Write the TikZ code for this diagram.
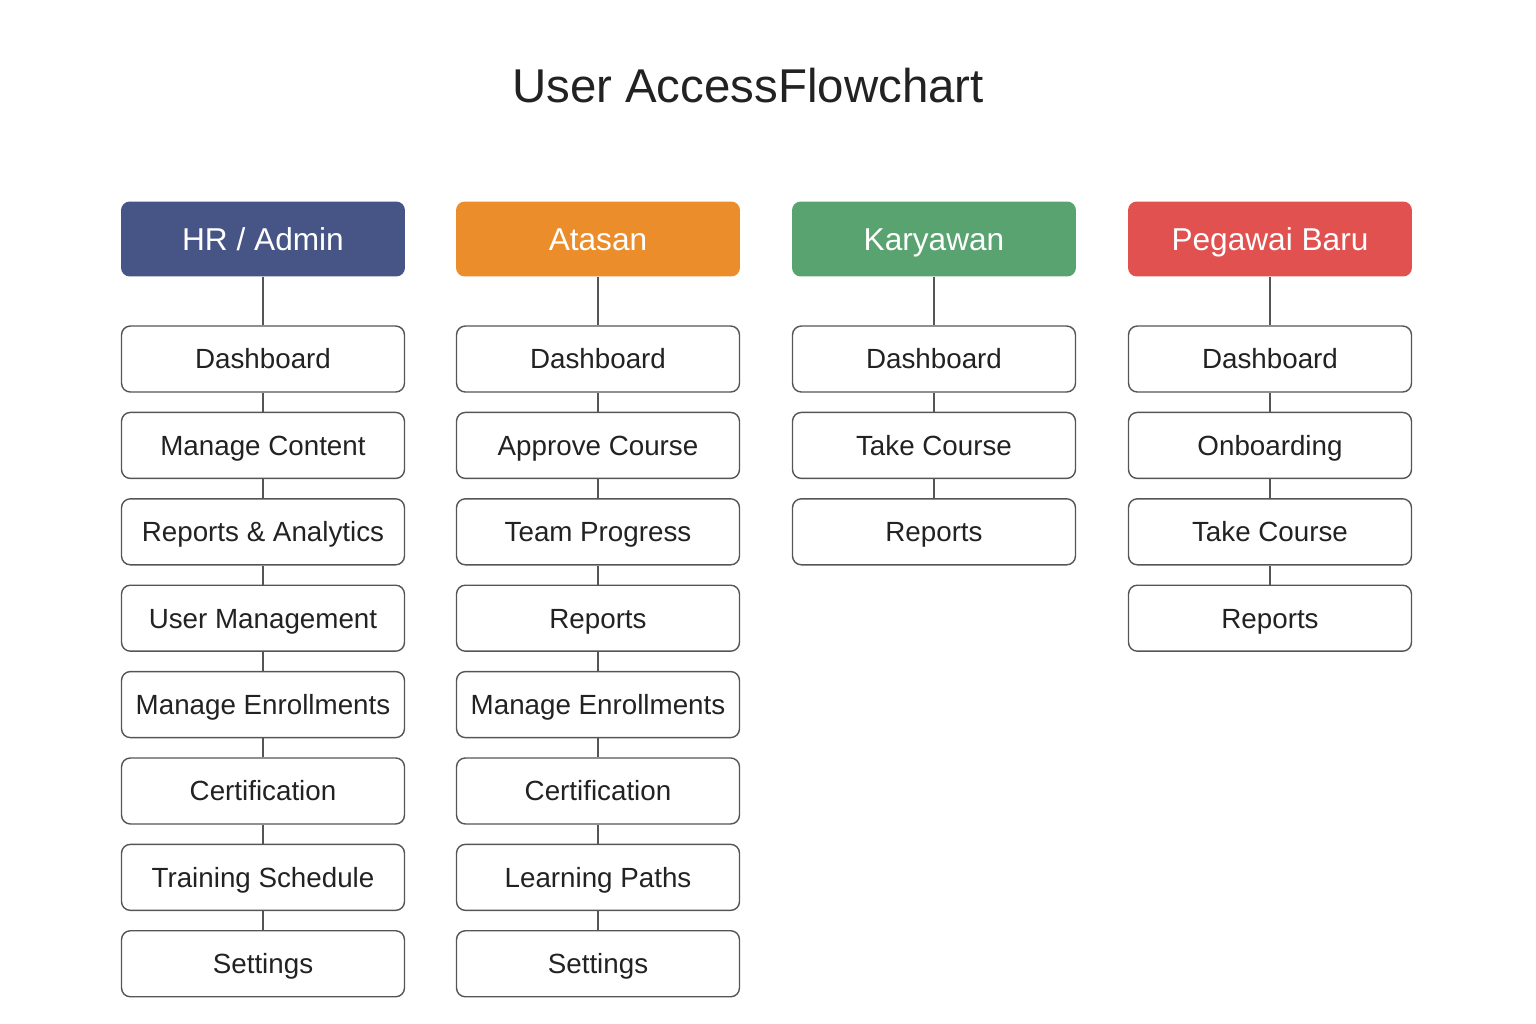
\documentclass[tikz,border=0pt]{standalone}
\usepackage{fontspec}
\setmainfont{Liberation Sans}
\usetikzlibrary{positioning}
\definecolor{hrblue}{HTML}{475586}
\definecolor{atorange}{HTML}{EB8D2A}
\definecolor{kagreen}{HTML}{58A370}
\definecolor{pbred}{HTML}{E0514F}
\definecolor{linegray}{HTML}{555555}
\definecolor{textgray}{HTML}{222222}
\tikzstyle{head}=[rectangle, rounded corners=5pt, minimum width=5.68cm, minimum height=1.5cm, text=white, text height=12.9pt, text depth=0pt, font=\fontsize{18}{22}\selectfont]
\tikzstyle{item}=[rectangle, rounded corners=5pt, draw=linegray, line width=0.8pt, minimum width=5.66cm, minimum height=1.32cm, text=textgray, text height=11.3pt, text depth=0pt, font=\fontsize{15.8}{19}\selectfont]
\tikzstyle{link}=[draw=linegray, line width=0.8pt]

\begin{document}
\begin{tikzpicture}[x=0.02cm,y=-0.02cm,node distance=0.38cm]
\useasboundingbox (0,0) rectangle (1536,1024);

\node[text=textgray, font=\fontsize{27}{32}\selectfont] (title) at (748,86) {User AccessFlowchart};

%% HR / Admin
\node[head, fill=hrblue] (hr) at (263,239) {HR / Admin};
\node[item] (hr1) [below=0.97cm of hr] {Dashboard};
\node[item] (hr2) [below=of hr1] {Manage Content};
\node[item] (hr3) [below=of hr2] {Reports \& Analytics};
\node[item] (hr4) [below=of hr3] {User Management};
\node[item] (hr5) [below=of hr4] {Manage Enrollments};
\node[item] (hr6) [below=of hr5] {Certification};
\node[item] (hr7) [below=of hr6] {Training Schedule};
\node[item] (hr8) [below=of hr7] {Settings};

%% Atasan
\node[head, fill=atorange] (at) at (598,239) {Atasan};
\node[item] (at1) [below=0.97cm of at] {Dashboard};
\node[item] (at2) [below=of at1] {Approve Course};
\node[item] (at3) [below=of at2] {Team Progress};
\node[item] (at4) [below=of at3] {Reports};
\node[item] (at5) [below=of at4] {Manage Enrollments};
\node[item] (at6) [below=of at5] {Certification};
\node[item] (at7) [below=of at6] {Learning Paths};
\node[item] (at8) [below=of at7] {Settings};

%% Karyawan
\node[head, fill=kagreen] (ka) at (934,239) {Karyawan};
\node[item] (ka1) [below=0.97cm of ka] {Dashboard};
\node[item] (ka2) [below=of ka1] {Take Course};
\node[item] (ka3) [below=of ka2] {Reports};

%% Pegawai Baru
\node[head, fill=pbred] (pb) at (1270,239) {Pegawai Baru};
\node[item] (pb1) [below=0.97cm of pb] {Dashboard};
\node[item] (pb2) [below=of pb1] {Onboarding};
\node[item] (pb3) [below=of pb2] {Take Course};
\node[item] (pb4) [below=of pb3] {Reports};

\draw[link] (hr) -- (hr1) -- (hr2) -- (hr3) -- (hr4) -- (hr5) -- (hr6) -- (hr7) -- (hr8);
\draw[link] (at) -- (at1) -- (at2) -- (at3) -- (at4) -- (at5) -- (at6) -- (at7) -- (at8);
\draw[link] (ka) -- (ka1) -- (ka2) -- (ka3);
\draw[link] (pb) -- (pb1) -- (pb2) -- (pb3) -- (pb4);

\end{tikzpicture}
\end{document}
